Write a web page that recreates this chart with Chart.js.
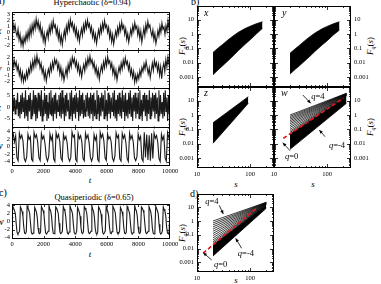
<!DOCTYPE html>
<html><head><meta charset="utf-8">
<script src="https://cdn.jsdelivr.net/npm/chart.js@4.4.1/dist/chart.umd.min.js"></script>
<style>
body{margin:0;width:381px;height:284px;overflow:hidden;background:#fff;position:relative;font-family:"Liberation Serif",serif;color:#000}
canvas{position:absolute}
.t{position:absolute;white-space:nowrap;line-height:1}
.i{font-style:italic}
.rot{transform:translate(-50%,-50%) rotate(-90deg)}
.ctr{transform:translateX(-50%)}
sub{font-size:6px;vertical-align:-2px}
</style></head><body>
<div class="t" style="left:-3px;top:-4px;font-size:10px">a)</div>
<div class="t ctr" style="left:92px;top:-2px;font-size:8.5px">Hyperchaotic (δ=0.94)</div>
<div class="t" style="left:191px;top:-3px;font-size:10px">b)</div>
<div class="t" style="left:-1px;top:188px;font-size:10px">c)</div>
<div class="t ctr" style="left:94px;top:193px;font-size:8.5px">Quasiperiodic (δ=0.65)</div>
<div class="t" style="left:190px;top:189px;font-size:10px">d)</div>
<div class="t i" style="left:-3px;top:26px;font-size:10px">x</div>
<div class="t i" style="left:-3px;top:64px;font-size:10px">y</div>
<div class="t i" style="left:-3px;top:103px;font-size:10px">z</div>
<div class="t i" style="left:-4px;top:141px;font-size:10px">w</div>
<div class="t i" style="left:-3px;top:217px;font-size:10px">w</div>
<div class="t i ctr" style="left:90px;top:176px;font-size:9px">t</div>
<div class="t i ctr" style="left:90px;top:250px;font-size:9px">t</div>
<div class="t i ctr" style="left:236px;top:180px;font-size:9px">s</div>
<div class="t i ctr" style="left:313px;top:180px;font-size:9px">s</div>
<div class="t i ctr" style="left:236px;top:276px;font-size:9px">s</div>
<div class="t rot" style="left:183px;top:46px;font-size:9px"><i>F</i><sub><i>q</i></sub>(<i>s</i>)</div>
<div class="t rot" style="left:183px;top:127px;font-size:9px"><i>F</i><sub><i>q</i></sub>(<i>s</i>)</div>
<div class="t rot" style="left:183px;top:233px;font-size:9px"><i>F</i><sub><i>q</i></sub>(<i>s</i>)</div>
<div class="t rot" style="left:371px;top:46px;font-size:9px"><i>F</i><sub><i>q</i></sub>(<i>s</i>)</div>
<div class="t rot" style="left:371px;top:127px;font-size:9px"><i>F</i><sub><i>q</i></sub>(<i>s</i>)</div>
<div class="t i" style="left:204px;top:8px;font-size:10px;z-index:5">x</div>
<div class="t i" style="left:282px;top:8px;font-size:10px;z-index:5">y</div>
<div class="t i" style="left:204px;top:88px;font-size:10px;z-index:5">z</div>
<div class="t i" style="left:281px;top:88px;font-size:10px;z-index:5">w</div>
<script>
// ================= DATA =================
const T_MAX = 10000;
const tTicks = [0, 2000, 4000, 6000, 8000, 10000];
const tMinor = [1000, 3000, 5000, 7000, 9000];

// panel a) hyperchaotic time series (equally spaced in t over 0..10000)
const seriesX = [0.4,1.5,0.3,1.2,0.0,-0.6,0.5,-1.2,-0.3,-2.0,-1.0,-2.2,-0.8,-1.6,-0.2,-1.2,0.2,-0.9,0.8,-0.4,1.2,0.1,1.6,0.6,2.2,0.9,1.8,0.4,1.3,-0.4,0.5,-1.3,-0.2,-1.8,-0.6,0.2,-0.9,0.9,-0.1,1.4,0.3,1.9,0.8,1.2,-0.2,0.7,-1.0,0.1,-1.6,-0.5,-2.0,-0.7,0.3,-0.9,1.0,0.0,1.6,0.5,2.1,1.0,1.6,0.3,1.1,-0.4,0.6,-1.0,0.0,-1.5,-0.3,0.6,-0.5,1.2,0.2,1.7,0.7,2.0,0.9,1.4,0.1,0.9,-0.7,0.2,-1.3,-0.3,-1.8,-0.6,0.4,-0.6,1.0,0.0,1.5,0.5,1.9,0.8,1.2,0.0,0.8,-0.9,0.1,-1.5,-0.4,-1.9,-0.8,0.2,-0.7,0.8,-0.2,1.3,0.3,1.7,0.6,1.1,-0.3,0.6,-1.1,-0.2,-1.6,-0.6,0.5,-0.4,1.1,0.2,1.6,0.6,1.0,-0.4,0.6,-1.0,0.2,-1.6,-0.5,0.7,-0.5,1.3,0.3,1.8,0.8,1.2,0.1,-0.6,0.4,-1.2,-0.2,-1.8,-0.9,0.3,-0.6,1.0,0.0,1.5,0.5,0.9,-0.3,1.1,0.2,1.9,0.7,1.3];
const seriesY = [1.0,0.2,1.6,0.5,1.2,-0.2,0.6,-1.0,-0.1,-1.8,-0.6,-2.1,-1.0,-1.8,-0.4,-1.4,0.0,-0.7,0.9,-0.2,1.4,0.3,1.9,0.7,2.3,1.0,1.6,0.2,1.0,-0.6,0.2,-1.5,-0.4,-2.0,-0.8,0.0,-1.0,0.7,-0.3,1.2,0.2,1.7,0.9,1.5,0.0,0.9,-0.8,0.3,-1.4,-0.3,-1.9,-0.9,0.1,-1.1,0.8,-0.2,1.4,0.4,2.0,1.1,1.8,0.5,1.3,-0.2,0.8,-0.8,0.2,-1.3,-0.1,0.8,-0.3,1.4,0.4,1.9,0.9,2.2,1.0,1.6,0.3,1.1,-0.5,0.4,-1.1,-0.1,-1.7,-0.4,0.6,-0.4,1.2,0.2,1.7,0.6,2.1,1.0,1.4,0.2,1.0,-0.7,0.3,-1.3,-0.2,-1.8,-0.6,0.4,-0.5,1.0,0.0,1.5,0.5,1.9,0.8,1.3,-0.1,0.8,-0.9,0.0,-1.4,-0.4,-2.2,-1.0,-2.0,-0.8,-1.6,-0.2,-1.1,0.3,-0.4,0.9,0.0,1.3,0.3,-0.8,0.2,-1.4,-0.2,1.0,-0.2,1.5,0.5,1.1,-0.3,0.8,-1.0,0.4,-1.6,0.2,1.0,-0.4,1.6,0.4,2.0,0.9,1.4];
const seriesZ = [1,5,-2,4,-3,3,-1,6,-4,2,-5,5,-3,6,-2,4,-5,7,-4,3,-6,5,-2,6,-5,3,-4,7,-3,5,-6,4,-5,6,-2,5,-4,7,-6,3,-4,6,-3,5,-6,2,-5,6,-3,7,-4,4,-6,5,-3,6,-5,3,-2,5,-4,6,-5,7,-3,4,-6,5,-4,6,-2,3,-5,6,-4,7,-6,4,-3,5,-5,6,-2,4,-6,7,-4,5,-3,6,-5,3,-4,5,-2,6,-4,4,-5,6,-3,5,-6,6,-4,3,-5,7,-3,5,-6,4,-4,6,-2,5,-5,7,-4,3,-6,6,-3,5,-5,4,-2,6,-4,7,-5,3,-6,5,-3,6,-4,4,-5,7,-2,5,-6,6,-4,3,-5,6,-3,7,-4,4,-6,5,-2,6,-5,4,-3,6,-5,7,-4,3,-6,5,-2,6,-4,5,-6,3,-3,7,-5,4,-4,6,-2,5,-5,6,-3,4,-6,7,-4,5,-3,2,-5,6,-4,7,-2,4,-6,5,-3,6];
const seriesW = [2.4,3.4,1.2,2.9,-3.0,-3.8,3.6,2.2,3.0,1.4,-3.2,-4.0,-2.8,3.3,1.9,2.6,-3.4,-3.9,3.8,2.4,3.1,1.1,-3.0,-3.7,3.5,2.0,2.8,0.6,-2.9,-3.9,-2.6,3.4,1.7,2.9,-3.3,-4.0,3.7,2.3,3.2,1.3,-3.1,-3.8,3.3,1.9,2.7,1.0,-3.0,-3.9,-2.9,3.9,2.5,3.0,-3.4,-4.0,3.5,2.1,2.9,1.3,-3.2,-3.8,3.6,2.2,3.1,0.9,-2.9,-3.9,-2.7,3.2,1.7,2.8,-3.5,-4.0,3.8,2.4,3.3,1.5,-3.0,-3.7,3.4,2.0,2.6,1.2,-3.1,-3.9,-2.6,3.7,2.3,3.0,-3.3,-3.9,3.5,2.2,3.1,1.0,-3.2,-4.0,3.6,2.0,2.9,1.2,-3.0,-3.8,-2.8,3.4,1.8,2.7,-3.2,-3.9,3.8,-2.9,3.2,-3.6,3.0,-3.8,3.5,-3.2,3.6,2.2,2.9,1.2,-3.2,-4.0,3.3,1.8,2.8,-3.1,-3.9,3.7,2.4,3.0];
// panel c) quasiperiodic w
const seriesC = [3.4,3.6,3.1,2.6,1.8,-0.6,-2.7,-3.1,-2.8,-2.4,3.5,3.0,2.4,1.2,-1.4,-2.9,-3.0,-2.5,3.7,3.2,2.7,1.9,-0.4,-2.6,-3.1,-2.9,-2.3,3.4,2.9,2.3,1.0,-1.6,-2.9,-3.0,-2.6,3.6,3.1,2.6,1.7,-0.8,-2.8,-3.1,-2.8,-2.4,3.8,3.0,2.5,1.3,-1.3,-2.9,-3.0,-2.5,3.5,3.2,2.7,1.9,-0.5,-2.6,-3.0,-2.8,-2.3,3.6,3.0,2.4,1.1,-1.5,-2.9,-3.1,-2.6,3.7,3.1,2.6,1.8,-0.7,-2.7,-3.1,-2.9,-2.4,3.4,2.9,2.3,1.2,-1.4,-2.8,-3.0,-2.5,3.6,3.2,2.7,1.9,-0.4,-2.6,-3.0,-2.8,-2.4,3.8,3.0,2.4,1.0,-1.7,-2.9,-3.1,-2.6,3.5,3.1,2.6,1.7,-0.8,-2.8,-3.1,-2.8,-2.3,3.6,2.9,2.4,1.2,-1.4,-2.9,-3.0,-2.5,3.7,3.2,2.7,1.9,-0.5,-2.6,-3.0,-2.9,-2.4,3.4,2.9,2.3,1.1,-1.5,-2.9,-3.0,-2.6,3.6,3.1,2.6,1.8,-0.6,-2.7,-3.1,-2.8,-2.3,3.8,3.0,2.5,1.3,-1.3,-2.8,-3.0,-2.5,3.5,3.2,2.7,1.9,-0.4,-2.6,-3.0,-2.8,-2.4,3.6,3.0,2.4,1.1,-1.6,-2.9,-3.1,-2.6,3.7,3.1,2.6,1.8,-0.7,-2.7,-3.1,-2.9,-2.3,3.5,2.9,2.4,1.2,-1.4,-2.9,-3.0,-2.5,3.6];

const ticksX = [-2,-1,0,1,2,3], minorX = [-2.5,-1.5,-0.5,0.5,1.5,2.5];
const ticksY = [-2,-1,0,1,2],   minorY = [-2.5,-1.5,-0.5,0.5,1.5,2.5];
const ticksZ = [-5,0,5],        minorZ = [-7.5,-2.5,2.5,7.5];
const ticksW = [-4,-2,0,2,4],   minorW = [-5,-3,-1,1,3,5];

// panels b) and d): fluctuation functions F_q(s)
const sTicks = [10, 100];
const sMinor = [20,30,40,50,60,70,80,90,200];
const fTicks = [0.001, 0.01, 0.1, 1, 10];
const S_MIN = 10, S_MAX = 280, F_MIN = 2e-4, F_MAX = 90;

const sBand   = [20,25,30,40,50,60,80,100,130,170];
const fxUpper = [0.052,0.105,0.18,0.44,0.83,1.32,2.4,3.5,5.2,7.2];
const fxLower = [0.00145,0.0032,0.0059,0.016,0.035,0.071,0.19,0.4,1.0,2.5];
const fyUpper = [0.045,0.092,0.16,0.40,0.76,1.22,2.3,3.4,5.1,7.2];
const fyLower = [0.0016,0.0034,0.006,0.016,0.034,0.066,0.17,0.34,0.85,1.9];
const sBandZ  = [20,40,60,92];
const fzUpper = [0.29,1.93,5.85,18.9];
const fzLower = [0.0106,0.195,1.07,6.6];

// w panel: q = 4 ... 0 lines (start at s=20, end at s=230), q=-4 line, red q=0 fit
const sLineW = [20, 230];
const wStart = [1.0,0.8,0.64,0.51,0.4,0.31,0.24,0.18,0.135,0.1,0.075,0.06,0.048];
const wEnd   = [32.7,31.7,30.7,29.7,28.7,27.7,26.7,25.7,24.7,23.7,22.7,21.7,20.7];
const wQm4   = [0.0040, 6.6];
const wRedS  = [15, 200], wRedF = [0.0237, 14.6];
// d panel
const sLineD = [20, 200];
const dStart = [1.0,0.72,0.52,0.37,0.26,0.18,0.125,0.087,0.06,0.042,0.031,0.024,0.0186];
const dEnd   = [22.6,21.9,21.3,20.6,20.0,19.3,18.6,17.9,17.2,16.5,15.8,15.2,14.6];
const dQm4   = [0.0029, 8.3];
const dRedS  = [13, 131], dRedF = [0.0046, 8.3];

// ================= DRAWING =================
Chart.defaults.font.family = '"Liberation Serif", "DejaVu Serif", serif';
Chart.defaults.color = '#000';

const fMinor = [];
[1e-4,1e-3,1e-2,1e-1,1,10].forEach(d => { for (let k=2;k<=9;k++){ const v=+(d*k).toPrecision(3); if (v>F_MIN && v<F_MAX) fMinor.push(v);} });
const LABEL_FONT = '6.5px "Liberation Serif"';

// draws frame, inward ticks and tick labels from the chart's own scales
const framePlugin = {
  id:'frame',
  afterDatasetsDraw(chart){
    const o = chart.canvas._frame; if(!o) return;
    const {ctx, chartArea:a} = chart; const xs = chart.scales.x, ys = chart.scales.y;
    ctx.save(); ctx.strokeStyle='#000'; ctx.lineWidth=0.8; ctx.beginPath();
    const vx=(v,len)=>{const p=Math.round(xs.getPixelForValue(v))+0.5; if(p<a.left||p>a.right) return; ctx.moveTo(p,a.bottom); ctx.lineTo(p,a.bottom-len); ctx.moveTo(p,a.top); ctx.lineTo(p,a.top+len);};
    const vy=(v,len)=>{const p=Math.round(ys.getPixelForValue(v))+0.5; if(p<a.top||p>a.bottom) return; ctx.moveTo(a.left,p); ctx.lineTo(a.left+len,p); ctx.moveTo(a.right,p); ctx.lineTo(a.right-len,p);};
    o.xMaj.forEach(v=>vx(v,o.maj)); o.xMin.forEach(v=>vx(v,o.min));
    o.yMaj.forEach(v=>vy(v,o.maj)); o.yMin.forEach(v=>vy(v,o.min));
    ctx.stroke();
    ctx.lineWidth=1; ctx.strokeRect(a.left+0.5,a.top+0.5,a.right-a.left-1,a.bottom-a.top-1);
    ctx.fillStyle='#000'; ctx.font=LABEL_FONT;
    if(o.xLabels){ ctx.textAlign='center'; ctx.textBaseline='top';
      o.xMaj.forEach(v=>ctx.fillText(String(v), xs.getPixelForValue(v), a.bottom+o.xPad)); }
    if(o.ySide){ ctx.textBaseline='middle'; ctx.textAlign = o.ySide==='left'?'right':'left';
      const x = o.ySide==='left' ? a.left-o.yPad : a.right+o.yPad;
      o.yMaj.forEach(v=>ctx.fillText(String(v), x, ys.getPixelForValue(v))); }
    ctx.restore();
  }
};
const notePlugin = {
  id:'notes',
  afterDatasetsDraw(chart){
    const o = chart.canvas._notes; if(!o) return;
    const ctx = chart.ctx, xs = chart.scales.x, ys = chart.scales.y;
    ctx.save(); ctx.strokeStyle='#000'; ctx.fillStyle='#000'; ctx.lineWidth=0.8;
    o.arrows.forEach(([s1,f1,s2,f2])=>{
      const x1=xs.getPixelForValue(s1), y1=ys.getPixelForValue(f1), x2=xs.getPixelForValue(s2), y2=ys.getPixelForValue(f2);
      ctx.beginPath(); ctx.moveTo(x1,y1); ctx.lineTo(x2,y2); ctx.stroke();
      const an=Math.atan2(y2-y1,x2-x1), L=4, W=0.42;
      ctx.beginPath(); ctx.moveTo(x2,y2); ctx.lineTo(x2-L*Math.cos(an-W),y2-L*Math.sin(an-W)); ctx.lineTo(x2-L*Math.cos(an+W),y2-L*Math.sin(an+W)); ctx.closePath(); ctx.fill();
    });
    o.texts.forEach(([s,f,str])=>{
      const x=xs.getPixelForValue(s), y=ys.getPixelForValue(f);
      ctx.textBaseline='middle'; ctx.textAlign='left';
      ctx.font='italic 8.5px "Liberation Serif"'; const w1=ctx.measureText('q').width;
      ctx.font='8.5px "Liberation Serif"'; const w2=ctx.measureText(str).width;
      const x0=x-(w1+w2)/2;
      ctx.font='italic 8.5px "Liberation Serif"'; ctx.fillText('q',x0,y);
      ctx.font='8.5px "Liberation Serif"'; ctx.fillText(str,x0+w1,y);
    });
    ctx.restore();
  }
};

function place(L,T,W,H){const c=document.createElement('canvas');c.width=W;c.height=H;Object.assign(c.style,{left:L+'px',top:T+'px',width:W+'px',height:H+'px'});document.body.appendChild(c);return c;}
const base = {responsive:false, animation:false, devicePixelRatio:1, events:[], parsing:false};

function tsChart(t,b,values,yr,yTicks,yMinor,showX){
  const l=12, r=170, mL=12, mR=16, mT=2, mB=showX?12:2;
  const cv = place(l-mL, t-mT, (r-l)+mL+mR, (b-t)+mT+mB);
  cv._frame = {xMaj:tTicks, xMin:tMinor, yMaj:yTicks, yMin:yMinor, maj:3, min:1.5, xLabels:showX, xPad:2, ySide:'left', yPad:2};
  const step = T_MAX/(values.length-1);
  return new Chart(cv,{type:'line',
    data:{datasets:[{data:values.map((v,i)=>({x:i*step,y:v})), borderColor:'#1a1a1a', borderWidth:1.1, pointRadius:0, tension:0}]},
    options:Object.assign({},base,{
      layout:{autoPadding:false,padding:{left:mL,right:mR,top:mT,bottom:mB}},
      plugins:{legend:{display:false},tooltip:{enabled:false}},
      scales:{
        x:{type:'linear',min:0,max:T_MAX,display:false},
        y:{type:'linear',min:yr[0],max:yr[1],display:false}
      }}),
    plugins:[framePlugin]});
}

const pts=(xs,ys)=>xs.map((x,i)=>({x,y:ys[i]}));
const ln=(data,extra)=>Object.assign({data,borderColor:'#000',borderWidth:0.8,pointRadius:0,tension:0,fill:false},extra||{});

function logChart(box,side,showX,datasets,notes){
  const {l,r,t,b}=box;
  let cvL,padL,padR;
  if(side==='left'){cvL=170;padL=l-170;padR=8;} else {cvL=l-8;padL=8;padR=30;}
  const W=(r-cvL)+padR;
  const mT=3, mB=showX?13:3;
  const cv = place(cvL,t-mT,W,(b-t)+mT+mB);
  cv._frame = {xMaj:sTicks, xMin:sMinor, yMaj:fTicks, yMin:fMinor, maj:4, min:2, xLabels:showX, xPad:3, ySide:side, yPad:3};
  if(notes) cv._notes = notes;
  return new Chart(cv,{type:'line',data:{datasets},
    options:Object.assign({},base,{
      layout:{autoPadding:false,padding:{left:padL,right:padR,top:mT,bottom:mB}},
      plugins:{legend:{display:false},tooltip:{enabled:false},filler:{propagate:false}},
      scales:{
        x:{type:'logarithmic',min:S_MIN,max:S_MAX,display:false},
        y:{type:'logarithmic',min:F_MIN,max:F_MAX,display:false}
      }}),
    plugins:[framePlugin,notePlugin]});
}

// ---- panel a
tsChart(12,51,seriesX,[-3.0,3.3],ticksX,minorX,false);
tsChart(50,89,seriesY,[-3.3,3.2],ticksY,minorY,false);
tsChart(88,128,seriesZ,[-9,8],ticksZ,minorZ,false);
tsChart(127,166,seriesW,[-5.2,5.2],ticksW,minorW,true);
// ---- panel c
tsChart(204,239,seriesC,[-4.3,4.2],ticksW,minorW,true);

// ---- panel b
const band=(xs,lo,hi)=>[ln(pts(xs,lo)), ln(pts(xs,hi),{fill:'-1',backgroundColor:'#000'})];
logChart({l:197,r:274,t:6,b:87},'left',false,band(sBand,fxLower,fxUpper));
logChart({l:274,r:351,t:6,b:87},'right',false,band(sBand,fyLower,fyUpper));
logChart({l:197,r:274,t:87,b:168},'left',true,band(sBandZ,fzLower,fzUpper));

function fan(sL,start,end,qm4,redS,redF){
  const ds=[ln(pts(sL,qm4)), ln(pts(sL,[start[start.length-1],end[end.length-1]]),{fill:'-1',backgroundColor:'#000'})];
  for(let k=0;k<start.length-1;k++) ds.push(ln(pts(sL,[start[k],end[k]]),{borderWidth:0.75}));
  ds.push(ln(pts(redS,redF),{borderColor:'#e8141b',borderWidth:1.6,borderDash:[4,2.5],order:-1}));
  return ds;
}
logChart({l:274,r:351,t:87,b:168},'right',true,fan(sLineW,wStart,wEnd,wQm4,wRedS,wRedF),
  {arrows:[[34.7,24.9,49,6.6],[91,0.0306,71,0.0897],[20,0.00323,14.6,0.0117]],
   texts:[[67,19.6,'=4'],[153,0.0074,'=-4'],[21.5,0.00123,'=0']]});
// ---- panel d
logChart({l:197,r:274,t:194,b:272},'left',true,fan(sLineD,dStart,dEnd,dQm4,dRedS,dRedF),
  {arrows:[[26.2,13.6,31.2,3.2],[69,0.0104,53.3,0.0555],[18.9,0.00148,13.1,0.005]],
   texts:[[19.1,23.7,'=4'],[83,0.0044,'=-4'],[27.7,0.00065,'=0']]});
</script>
</body></html>
